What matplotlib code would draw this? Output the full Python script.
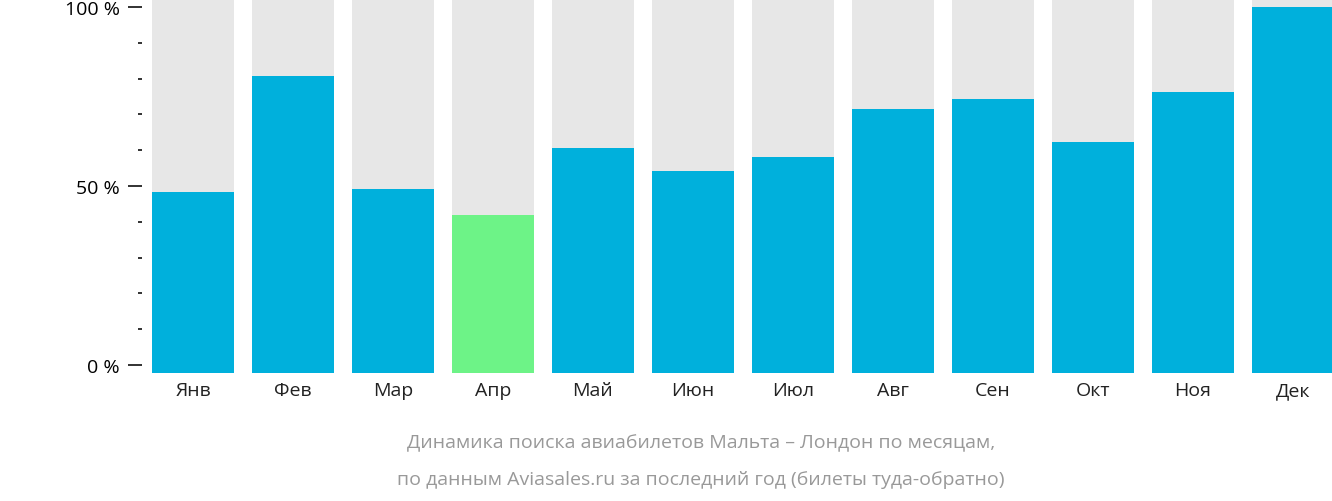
import matplotlib.pyplot as plt
from matplotlib.ticker import MultipleLocator, FuncFormatter

months = ["Янв", "Фев", "Мар", "Апр", "Май", "Июн", "Июл", "Авг", "Сен", "Окт", "Ноя", "Дек"]
values = [48.3, 80.7, 49.2, 41.9, 60.6, 54.2, 58.1, 71.5, 74.3, 62.3, 76.3, 100.0]
highlight = "Апр"

plt.rcParams["font.family"] = "Open Sans"
DPI = 100
fig = plt.figure(figsize=(13.32, 5.02), dpi=DPI)
ax = fig.add_axes([152 / 1332, 1 - 374 / 502, 1180 / 1332, 374 / 502])

ymin, ymax = -2.2, 102.2
x = range(len(months))
ax.bar(x, [ymax - ymin] * len(months), bottom=ymin, width=0.82, color="#e7e7e7", zorder=1)
colors = ["#6df387" if m == highlight else "#00b0dc" for m in months]
ax.bar(x, [v - ymin for v in values], bottom=ymin, width=0.82, color=colors, zorder=2)

ax.set_xlim(-0.41, 11.39)
ax.set_ylim(ymin, ymax)
for s in ["top", "right", "bottom"]:
    ax.spines[s].set_visible(False)
ax.spines["left"].set_position(("outward", 7))
ax.spines["left"].set_visible(False)
ax.yaxis.set_major_locator(MultipleLocator(50))
ax.yaxis.set_minor_locator(MultipleLocator(10))
ax.yaxis.set_major_formatter(FuncFormatter(lambda v, p: f"{v:.0f} %"))
ax.tick_params(axis="y", which="major", length=10, width=1.3, labelsize=14, color="#222222", pad=6)
ax.tick_params(axis="y", which="minor", length=3, width=1.3, color="#222222")
ax.set_xticks(list(x))
ax.set_xticklabels(months)
ax.tick_params(axis="x", length=0, labelsize=14, pad=6, labelcolor="#222222")

fig.text(0.5 + 35 / 1332, 1 - 443 / 502, "Динамика поиска авиабилетов Мальта – Лондон по месяцам,",
         ha="center", va="center", fontsize=14, color="#999999")
fig.text(0.5 + 35 / 1332, 1 - 480 / 502, "по данным Aviasales.ru за последний год (билеты туда-обратно)",
         ha="center", va="center", fontsize=14, color="#999999")

fig.savefig("out.png", dpi=DPI)
